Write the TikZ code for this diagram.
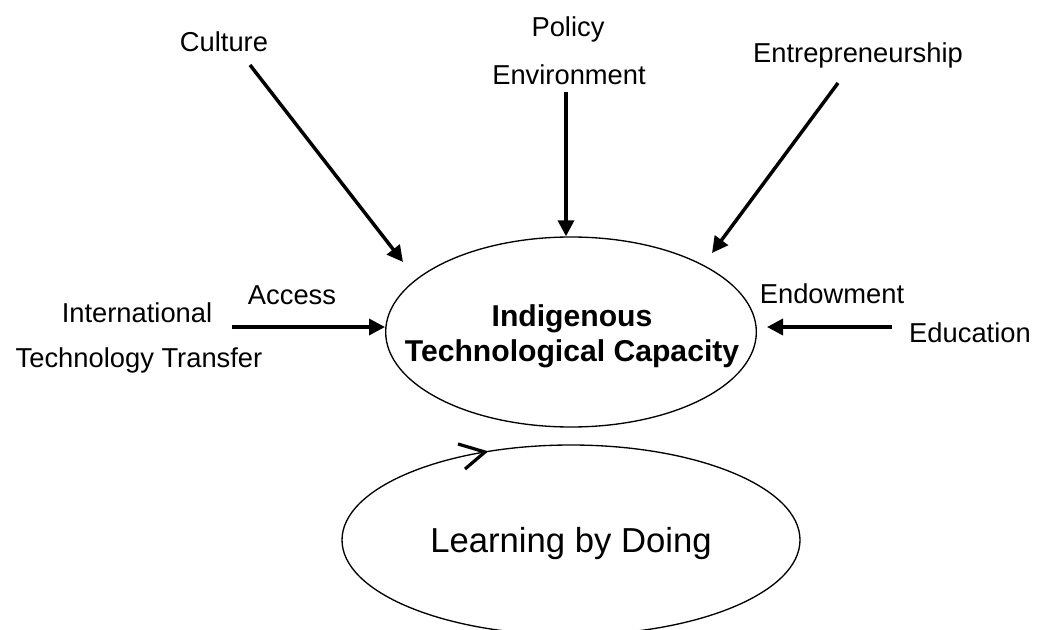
\documentclass[tikz,border=0pt]{standalone}
\usepackage{fontspec}
\setmainfont{Liberation Sans}
\usetikzlibrary{shapes.geometric,arrows.meta}
\begin{document}
\begin{tikzpicture}[x=0.75pt,y=-0.75pt,
  lbl/.style={font=\fontsize{20.5}{24}\selectfont, inner sep=0, anchor=base},
  arr/.style={line width=2.6pt,-{Triangle[length=12pt,width=12pt]}},
  ell/.style={draw, ellipse, line width=1pt, inner sep=0},
]
\useasboundingbox (0,0) rectangle (1037,630);
\clip (0,0) rectangle (1037,630);

% central ellipse
\node[ell, minimum width=278pt, minimum height=142.5pt] (itc) at (571,332) {};
\node[inner sep=0, align=center, font=\fontsize{22.6}{26.25}\selectfont\bfseries]
      (itctext) at (572,336) {Indigenous\\Technological Capacity};

% learning by doing ellipse
\node[ell, minimum width=343.5pt, minimum height=142.5pt] (lbd) at (571,540) {};
\node[inner sep=0, font=\fontsize{26}{30}\selectfont] (lbdtext) at (571,544) {Learning by Doing};

% labels
\node[lbl] (culture) at (224,52) {Culture};
\node[lbl] (policy) at (568,37) {Policy};
\node[lbl] (environment) at (569,85) {Environment};
\node[lbl] (entre) at (858,63) {Entrepreneurship};
\node[lbl] (access) at (292,305) {Access};
\node[lbl] (intl) at (137,323) {International};
\node[lbl] (techtr) at (139,368) {Technology Transfer};
\node[lbl] (endow) at (832,304) {Endowment};
\node[lbl] (educ) at (970,343) {Education};

% arrow ends
\coordinate (cs) at (250,65);   \coordinate (ct) at (403,262);
\coordinate (ps) at (566,92);
\coordinate (es) at (838,83);   \coordinate (et) at (712,253);
\coordinate (as) at (232,327);
\coordinate (ds) at (892,327);  \coordinate (dt) at (767,327);

\draw[arr] (cs) -- (ct);
\draw[arr] (ps) -- (ps |- itc.north);
\draw[arr] (es) -- (et);
\draw[arr] (as) -- (as -| itc.west);
\draw[arr] (ds) -- (dt);

% open arrowhead on the learning loop
\coordinate (lt) at (485,452);
\draw[line width=2.4pt] (458,444) -- (lt) -- (465,469);
\end{tikzpicture}
\end{document}
